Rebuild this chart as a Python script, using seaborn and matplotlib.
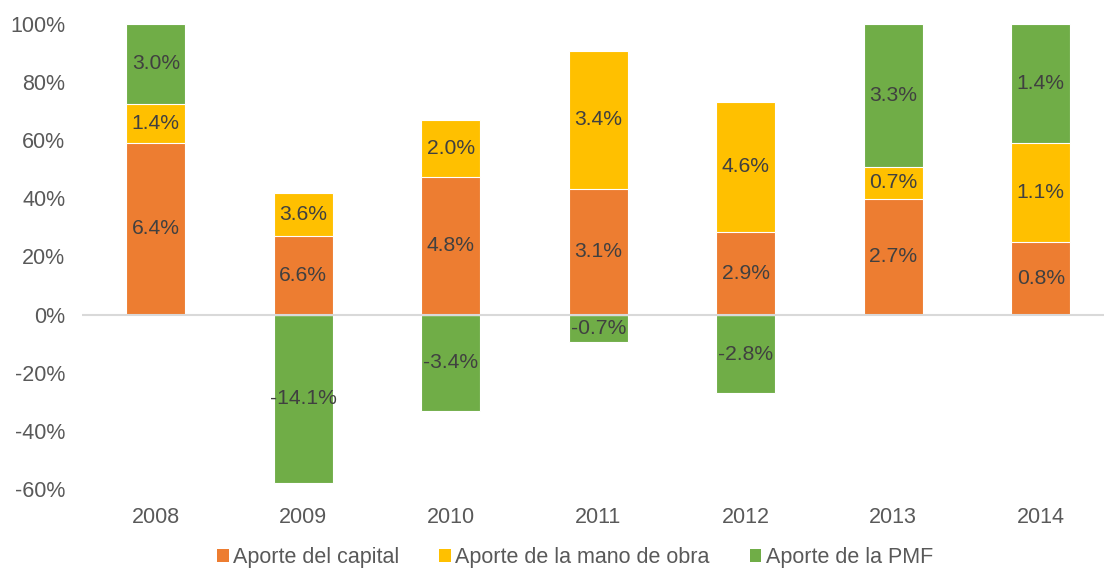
from matplotlib import pyplot as plt
from matplotlib.patches import Patch
import numpy as np
import pandas as pd
import seaborn as sns

# share of growth (bar heights, %) and growth contribution labels
years = ["2008", "2009", "2010", "2011", "2012", "2013", "2014"]
capital = [59.0, 27.1, 47.4, 43.3, 28.5, 39.9, 25.1]
labor = [13.5, 14.8, 19.6, 47.4, 44.7, 11.0, 34.0]
pmf = [27.5, -58.0, -33.0, -9.3, -27.1, 49.1, 40.9]

capital_lbl = [6.4, 6.6, 4.8, 3.1, 2.9, 2.7, 0.8]
labor_lbl = [1.4, 3.6, 2.0, 3.4, 4.6, 0.7, 1.1]
pmf_lbl = [3.0, -14.1, -3.4, -0.7, -2.8, 3.3, 1.4]

names = ["Aporte del capital", "Aporte de la mano de obra", "Aporte de la PMF"]
colors = ["#ED7D31", "#FFC000", "#70AD47"]

sns.set_style("white")
plt.rcParams['font.family'] = ['Liberation Sans', 'DejaVu Sans']

df = pd.DataFrame({"year": years, "capital": capital, "labor": labor, "pmf": pmf})
df["cl"] = df["capital"] + df["labor"]
# green bar: stacked on top when positive, hanging from zero when negative
df["pmf_top"] = np.where(df["pmf"] > 0, df["cl"] + df["pmf"], df["pmf"])

fig = plt.figure(figsize=(11.04, 5.71), dpi=100)
ax = fig.add_axes([82 / 1104, 82 / 571, 1032.5 / 1104, 465 / 571])

bar_kw = dict(width=0.4, edgecolor="white", linewidth=0.8, ax=ax)
sns.barplot(data=df, x="year", y="pmf_top", color=colors[2], saturation=1, **bar_kw)
sns.barplot(data=df, x="year", y="cl", color=colors[1], saturation=1, **bar_kw)
sns.barplot(data=df, x="year", y="capital", color=colors[0], saturation=1, **bar_kw)

ax.axhline(0, color="#D9D9D9", linewidth=1.5, zorder=5)

# value labels in the middle of each segment
lbl_kw = dict(ha="center", va="center", fontsize=15.2, color="#404040", zorder=6)
for i in range(len(years)):
    c = capital[i]
    cl = c + labor[i]
    ax.text(i, c / 2, f"{capital_lbl[i]:.1f}%", **lbl_kw)
    ax.text(i, c + labor[i] / 2, f"{labor_lbl[i]:.1f}%", **lbl_kw)
    if pmf[i] > 0:
        ax.text(i, cl + pmf[i] / 2, f"{pmf_lbl[i]:.1f}%", **lbl_kw)
    else:
        ax.text(i, pmf[i] / 2, f"{pmf_lbl[i]:.1f}%", **lbl_kw)

ax.set_ylim(-60, 100)
ax.set_xlim(-0.5, 6.5)
ax.set_yticks(range(-60, 101, 20))
ax.set_yticklabels([f"{v}%" for v in range(-60, 101, 20)])
ax.set_xlabel("")
ax.set_ylabel("")
ax.tick_params(axis="both", length=0, labelsize=15.5, labelcolor="#595959")
ax.tick_params(axis="x", pad=13)
ax.tick_params(axis="y", pad=12)
for s in ax.spines.values():
    s.set_visible(False)

handles = [Patch(facecolor=col, edgecolor="none") for col in colors]
fig.legend(handles, names, loc="center", bbox_to_anchor=(575 / 1104, 13 / 571),
           ncol=3, frameon=False, fontsize=15.5, labelcolor="#595959",
           handlelength=0.55, handleheight=0.55, handletextpad=0.2,
           columnspacing=1.85, borderpad=0.1)

fig.savefig("out.png", dpi=100)
